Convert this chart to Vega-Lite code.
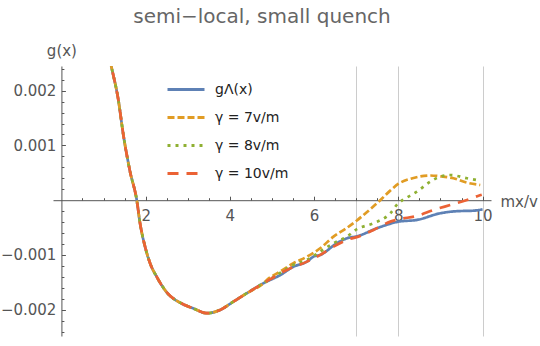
{
  "$schema": "https://vega.github.io/schema/vega-lite/v6.json",
  "width": 438,
  "height": 270,
  "autosize": {"type": "none"},
  "padding": {"left": 53, "top": 66, "right": 49, "bottom": 10},
  "background": "white",
  "title": {"text": "semi−local, small quench", "font": "DejaVu Sans", "fontSize": 20, "fontWeight": "normal", "color": "#666666", "anchor": "middle", "dx": -10, "offset": 16},
  "config": {
    "view": {"stroke": null},
    "axis": {"labelFont": "DejaVu Sans", "labelFontSize": 15, "labelColor": "#555555", "titleFont": "DejaVu Sans", "titleFontSize": 15, "titleFontWeight": "normal", "titleColor": "#555555", "domainColor": "#555555", "tickColor": "#555555", "domainWidth": 1, "tickWidth": 1}
  },
  "data": {"values": [
    {"s": "gΛ(x)", "x": 1.12, "y": 0.00268}, {"s": "gΛ(x)", "x": 1.178, "y": 0.002467}, {"s": "gΛ(x)", "x": 1.352, "y": 0.001828}, {"s": "gΛ(x)", "x": 1.471, "y": 0.00119}, {"s": "gΛ(x)", "x": 1.63, "y": 0.00052},
    {"s": "gΛ(x)", "x": 1.789, "y": 0.0}, {"s": "gΛ(x)", "x": 1.867, "y": -0.000422}, {"s": "gΛ(x)", "x": 1.986, "y": -0.000849}, {"s": "gΛ(x)", "x": 2.105, "y": -0.001151}, {"s": "gΛ(x)", "x": 2.264, "y": -0.001401},
    {"s": "gΛ(x)", "x": 2.502, "y": -0.001684}, {"s": "gΛ(x)", "x": 2.84, "y": -0.001881}, {"s": "gΛ(x)", "x": 3.134, "y": -0.001976}, {"s": "gΛ(x)", "x": 3.452, "y": -0.002064},
    {"s": "gΛ(x)", "x": 3.768, "y": -0.002004}, {"s": "gΛ(x)", "x": 4.084, "y": -0.001852}, {"s": "gΛ(x)", "x": 4.402, "y": -0.001699}, {"s": "gΛ(x)", "x": 4.797, "y": -0.001516},
    {"s": "gΛ(x)", "x": 5.19, "y": -0.00137}, {"s": "gΛ(x)", "x": 5.51, "y": -0.001214}, {"s": "gΛ(x)", "x": 5.83, "y": -0.001122}, {"s": "gΛ(x)", "x": 5.985, "y": -0.001031},
    {"s": "gΛ(x)", "x": 6.144, "y": -0.001}, {"s": "gΛ(x)", "x": 6.54, "y": -0.000786}, {"s": "gΛ(x)", "x": 6.78, "y": -0.000695}, {"s": "gΛ(x)", "x": 7.016, "y": -0.00066},
    {"s": "gΛ(x)", "x": 7.49, "y": -0.000513}, {"s": "gΛ(x)", "x": 8.004, "y": -0.000392}, {"s": "gΛ(x)", "x": 8.44, "y": -0.000361}, {"s": "gΛ(x)", "x": 8.995, "y": -0.000239},
    {"s": "gΛ(x)", "x": 9.39, "y": -0.000201}, {"s": "gΛ(x)", "x": 9.786, "y": -0.000192}, {"s": "gΛ(x)", "x": 10.0, "y": -0.000166},

    {"s": "γ = 7v/m", "x": 1.12, "y": 0.00268}, {"s": "γ = 7v/m", "x": 1.178, "y": 0.002467}, {"s": "γ = 7v/m", "x": 1.352, "y": 0.001828}, {"s": "γ = 7v/m", "x": 1.471, "y": 0.00119}, {"s": "γ = 7v/m", "x": 1.63, "y": 0.00052},
    {"s": "γ = 7v/m", "x": 1.789, "y": 0.0}, {"s": "γ = 7v/m", "x": 1.867, "y": -0.000422}, {"s": "γ = 7v/m", "x": 1.986, "y": -0.000849}, {"s": "γ = 7v/m", "x": 2.105, "y": -0.001151}, {"s": "γ = 7v/m", "x": 2.264, "y": -0.001401},
    {"s": "γ = 7v/m", "x": 2.502, "y": -0.001684}, {"s": "γ = 7v/m", "x": 2.84, "y": -0.001881}, {"s": "γ = 7v/m", "x": 3.134, "y": -0.001976}, {"s": "γ = 7v/m", "x": 3.452, "y": -0.002064},
    {"s": "γ = 7v/m", "x": 3.768, "y": -0.002004}, {"s": "γ = 7v/m", "x": 4.084, "y": -0.001852}, {"s": "γ = 7v/m", "x": 4.402, "y": -0.001699}, {"s": "γ = 7v/m", "x": 4.797, "y": -0.001516},
    {"s": "γ = 7v/m", "x": 4.878, "y": -0.001456}, {"s": "γ = 7v/m", "x": 5.19, "y": -0.001305}, {"s": "γ = 7v/m", "x": 5.51, "y": -0.001151}, {"s": "γ = 7v/m", "x": 5.83, "y": -0.001031},
    {"s": "γ = 7v/m", "x": 6.144, "y": -0.000878}, {"s": "γ = 7v/m", "x": 6.46, "y": -0.000666}, {"s": "γ = 7v/m", "x": 6.78, "y": -0.000505}, {"s": "γ = 7v/m", "x": 7.016, "y": -0.00037},
    {"s": "γ = 7v/m", "x": 7.25, "y": -0.00022}, {"s": "γ = 7v/m", "x": 7.57, "y": 0.0}, {"s": "γ = 7v/m", "x": 7.8, "y": 0.00017}, {"s": "γ = 7v/m", "x": 8.004, "y": 0.0003}, {"s": "γ = 7v/m", "x": 8.36, "y": 0.000405},
    {"s": "γ = 7v/m", "x": 8.757, "y": 0.000451}, {"s": "γ = 7v/m", "x": 8.995, "y": 0.000436}, {"s": "γ = 7v/m", "x": 9.31, "y": 0.0004}, {"s": "γ = 7v/m", "x": 9.63, "y": 0.000319},
    {"s": "γ = 7v/m", "x": 9.945, "y": 0.000277},

    {"s": "γ = 8v/m", "x": 1.12, "y": 0.00268}, {"s": "γ = 8v/m", "x": 1.178, "y": 0.002467}, {"s": "γ = 8v/m", "x": 1.352, "y": 0.001828}, {"s": "γ = 8v/m", "x": 1.471, "y": 0.00119}, {"s": "γ = 8v/m", "x": 1.63, "y": 0.00052},
    {"s": "γ = 8v/m", "x": 1.789, "y": 0.0}, {"s": "γ = 8v/m", "x": 1.867, "y": -0.000422}, {"s": "γ = 8v/m", "x": 1.986, "y": -0.000849}, {"s": "γ = 8v/m", "x": 2.105, "y": -0.001151}, {"s": "γ = 8v/m", "x": 2.264, "y": -0.001401},
    {"s": "γ = 8v/m", "x": 2.502, "y": -0.001684}, {"s": "γ = 8v/m", "x": 2.84, "y": -0.001881}, {"s": "γ = 8v/m", "x": 3.134, "y": -0.001976}, {"s": "γ = 8v/m", "x": 3.452, "y": -0.002064},
    {"s": "γ = 8v/m", "x": 3.768, "y": -0.002004}, {"s": "γ = 8v/m", "x": 4.084, "y": -0.001852}, {"s": "γ = 8v/m", "x": 4.402, "y": -0.001699}, {"s": "γ = 8v/m", "x": 4.797, "y": -0.001516},
    {"s": "γ = 8v/m", "x": 4.878, "y": -0.00148}, {"s": "γ = 8v/m", "x": 5.19, "y": -0.00133}, {"s": "γ = 8v/m", "x": 5.51, "y": -0.00118}, {"s": "γ = 8v/m", "x": 5.83, "y": -0.00109},
    {"s": "γ = 8v/m", "x": 6.144, "y": -0.00094}, {"s": "γ = 8v/m", "x": 6.46, "y": -0.000786}, {"s": "γ = 8v/m", "x": 6.78, "y": -0.000666}, {"s": "γ = 8v/m", "x": 7.016, "y": -0.000529},
    {"s": "γ = 8v/m", "x": 7.41, "y": -0.000422}, {"s": "γ = 8v/m", "x": 7.81, "y": -0.000239}, {"s": "γ = 8v/m", "x": 8.004, "y": -0.00005}, {"s": "γ = 8v/m", "x": 8.12, "y": 0.00001},
    {"s": "γ = 8v/m", "x": 8.44, "y": 0.000155}, {"s": "γ = 8v/m", "x": 8.757, "y": 0.000338}, {"s": "γ = 8v/m", "x": 8.995, "y": 0.000429}, {"s": "γ = 8v/m", "x": 9.23, "y": 0.00046},
    {"s": "γ = 8v/m", "x": 9.63, "y": 0.0004}, {"s": "γ = 8v/m", "x": 9.945, "y": 0.000356},

    {"s": "γ = 10v/m", "x": 1.12, "y": 0.00268}, {"s": "γ = 10v/m", "x": 1.178, "y": 0.002467}, {"s": "γ = 10v/m", "x": 1.352, "y": 0.001828}, {"s": "γ = 10v/m", "x": 1.471, "y": 0.00119}, {"s": "γ = 10v/m", "x": 1.63, "y": 0.00052},
    {"s": "γ = 10v/m", "x": 1.789, "y": 0.0}, {"s": "γ = 10v/m", "x": 1.867, "y": -0.000422}, {"s": "γ = 10v/m", "x": 1.986, "y": -0.000849}, {"s": "γ = 10v/m", "x": 2.105, "y": -0.001151}, {"s": "γ = 10v/m", "x": 2.264, "y": -0.001401},
    {"s": "γ = 10v/m", "x": 2.502, "y": -0.001684}, {"s": "γ = 10v/m", "x": 2.84, "y": -0.001881}, {"s": "γ = 10v/m", "x": 3.134, "y": -0.001976}, {"s": "γ = 10v/m", "x": 3.452, "y": -0.002064},
    {"s": "γ = 10v/m", "x": 3.768, "y": -0.002004}, {"s": "γ = 10v/m", "x": 4.084, "y": -0.001852}, {"s": "γ = 10v/m", "x": 4.402, "y": -0.001699}, {"s": "γ = 10v/m", "x": 4.797, "y": -0.001516},
    {"s": "γ = 10v/m", "x": 5.353, "y": -0.001274}, {"s": "γ = 10v/m", "x": 5.83, "y": -0.001122}, {"s": "γ = 10v/m", "x": 6.144, "y": -0.001}, {"s": "γ = 10v/m", "x": 6.46, "y": -0.000849},
    {"s": "γ = 10v/m", "x": 6.78, "y": -0.000726}, {"s": "γ = 10v/m", "x": 7.095, "y": -0.000653}, {"s": "γ = 10v/m", "x": 7.41, "y": -0.000544}, {"s": "γ = 10v/m", "x": 7.81, "y": -0.000392},
    {"s": "γ = 10v/m", "x": 8.004, "y": -0.000349}, {"s": "γ = 10v/m", "x": 8.44, "y": -0.000288}, {"s": "γ = 10v/m", "x": 8.836, "y": -0.000179}, {"s": "γ = 10v/m", "x": 9.23, "y": -0.000088},
    {"s": "γ = 10v/m", "x": 9.63, "y": 0.000004}, {"s": "γ = 10v/m", "x": 9.905, "y": 0.000082}, {"s": "γ = 10v/m", "x": 9.98, "y": 0.0001}
  ]},
  "layer": [
    {
      "transform": [{"filter": {"field": "s", "equal": "gΛ(x)"}}],
      "mark": {"type": "line", "strokeWidth": 2.7, "clip": true, "interpolate": "monotone"},
      "encoding": {
        "x": {"field": "x", "type": "quantitative", "scale": {"domain": [-0.2, 10.2], "nice": false, "zero": false},
          "axis": {"orient": "bottom", "offset": -135.8, "values": [2, 4, 6, 8, 10], "tickSize": -4, "labelPadding": 12.5, "grid": false, "title": "mx/v", "titleX": 447, "titleY": 5.8, "titleAlign": "left", "titleBaseline": "alphabetic", "titleColor": "#555555", "labelFlush": false, "labelOverlap": false}},
        "y": {"field": "y", "type": "quantitative", "scale": {"domain": [-0.00248, 0.00245], "nice": false, "zero": false},
          "axis": {"orient": "left", "offset": -8.42, "values": [-0.002, -0.001, 0.001, 0.002], "format": ".3f", "tickSize": -4, "labelPadding": 9.5, "grid": false, "title": "g(x)", "titleAngle": 0, "titleX": 0, "titleY": -11, "titleAlign": "center", "titleBaseline": "alphabetic", "labelFlush": false, "labelOverlap": false}},
        "color": {"field": "s", "type": "nominal", "scale": {"domain": ["gΛ(x)", "γ = 7v/m", "γ = 8v/m", "γ = 10v/m"], "range": ["#5e81b5", "#e19c24", "#8fb032", "#eb6235"]},
          "legend": {"orient": "none", "legendX": 113, "legendY": 3.5, "title": null, "symbolType": "stroke", "symbolSize": 1369, "symbolStrokeWidth": 3, "labelFont": "DejaVu Sans", "labelFontSize": 14, "labelColor": "#222222", "labelOffset": 9, "rowPadding": 1, "padding": 0}},
        "strokeDash": {"field": "s", "type": "nominal", "scale": {"domain": ["gΛ(x)", "γ = 7v/m", "γ = 8v/m", "γ = 10v/m"], "range": [[1, 0], [7, 3], [3, 5], [11, 8]]},
          "legend": {"orient": "none", "legendX": 113, "legendY": 3.5, "title": null, "symbolType": "stroke", "symbolSize": 1369, "symbolStrokeWidth": 3, "labelFont": "DejaVu Sans", "labelFontSize": 14, "labelColor": "#222222", "labelOffset": 9, "rowPadding": 1, "padding": 0}}
      }
    },
    {
      "transform": [{"filter": {"field": "s", "equal": "γ = 7v/m"}}],
      "mark": {"type": "line", "strokeWidth": 2.7, "clip": true, "interpolate": "monotone"},
      "encoding": {
        "x": {"field": "x", "type": "quantitative", "scale": {"domain": [-0.2, 10.2], "nice": false, "zero": false},
          "axis": {"orient": "bottom", "offset": -135.8, "values": [0.5, 1, 1.5, 2.5, 3, 3.5, 4.5, 5, 5.5, 6.5, 7, 7.5, 8.5, 9, 9.5], "tickSize": -2.5, "labels": false, "domain": false, "grid": false, "title": null}},
        "y": {"field": "y", "type": "quantitative", "scale": {"domain": [-0.00248, 0.00245], "nice": false, "zero": false},
          "axis": {"orient": "left", "offset": -8.42, "values": [-0.0024, -0.0022, -0.0018, -0.0016, -0.0014, -0.0012, -0.0008, -0.0006, -0.0004, -0.0002, 0.0002, 0.0004, 0.0006, 0.0008, 0.0012, 0.0014, 0.0016, 0.0018, 0.0022, 0.0024], "tickSize": -2.5, "labels": false, "domain": false, "grid": false, "title": null}},
        "color": {"field": "s", "type": "nominal", "scale": {"domain": ["gΛ(x)", "γ = 7v/m", "γ = 8v/m", "γ = 10v/m"], "range": ["#5e81b5", "#e19c24", "#8fb032", "#eb6235"]}},
        "strokeDash": {"field": "s", "type": "nominal", "scale": {"domain": ["gΛ(x)", "γ = 7v/m", "γ = 8v/m", "γ = 10v/m"], "range": [[1, 0], [7, 3], [3, 5], [11, 8]]}}
      }
    },
    {
      "transform": [{"filter": {"field": "s", "equal": "γ = 8v/m"}}],
      "mark": {"type": "line", "strokeWidth": 2.7, "clip": true, "interpolate": "monotone"},
      "encoding": {
        "x": {"field": "x", "type": "quantitative", "scale": {"domain": [-0.2, 10.2], "nice": false, "zero": false},
          "axis": {"orient": "bottom", "values": [7, 8, 10], "ticks": false, "labels": false, "domain": false, "grid": true, "gridColor": "#cccccc", "gridWidth": 1, "gridOpacity": 1, "title": null}},
        "y": {"field": "y", "type": "quantitative", "scale": {"domain": [-0.00248, 0.00245], "nice": false, "zero": false}, "axis": null},
        "color": {"field": "s", "type": "nominal", "scale": {"domain": ["gΛ(x)", "γ = 7v/m", "γ = 8v/m", "γ = 10v/m"], "range": ["#5e81b5", "#e19c24", "#8fb032", "#eb6235"]}},
        "strokeDash": {"field": "s", "type": "nominal", "scale": {"domain": ["gΛ(x)", "γ = 7v/m", "γ = 8v/m", "γ = 10v/m"], "range": [[1, 0], [7, 3], [3, 5], [11, 8]]}}
      }
    },
    {
      "transform": [{"filter": {"field": "s", "equal": "γ = 10v/m"}}],
      "mark": {"type": "line", "strokeWidth": 2.7, "clip": true, "interpolate": "monotone"},
      "encoding": {
        "x": {"field": "x", "type": "quantitative", "scale": {"domain": [-0.2, 10.2], "nice": false, "zero": false}, "axis": null},
        "y": {"field": "y", "type": "quantitative", "scale": {"domain": [-0.00248, 0.00245], "nice": false, "zero": false}, "axis": null},
        "color": {"field": "s", "type": "nominal", "scale": {"domain": ["gΛ(x)", "γ = 7v/m", "γ = 8v/m", "γ = 10v/m"], "range": ["#5e81b5", "#e19c24", "#8fb032", "#eb6235"]}},
        "strokeDash": {"field": "s", "type": "nominal", "scale": {"domain": ["gΛ(x)", "γ = 7v/m", "γ = 8v/m", "γ = 10v/m"], "range": [[1, 0], [7, 3], [3, 5], [11, 8]]}}
      }
    }
  ],
  "resolve": {"axis": {"x": "independent", "y": "independent"}}
}
